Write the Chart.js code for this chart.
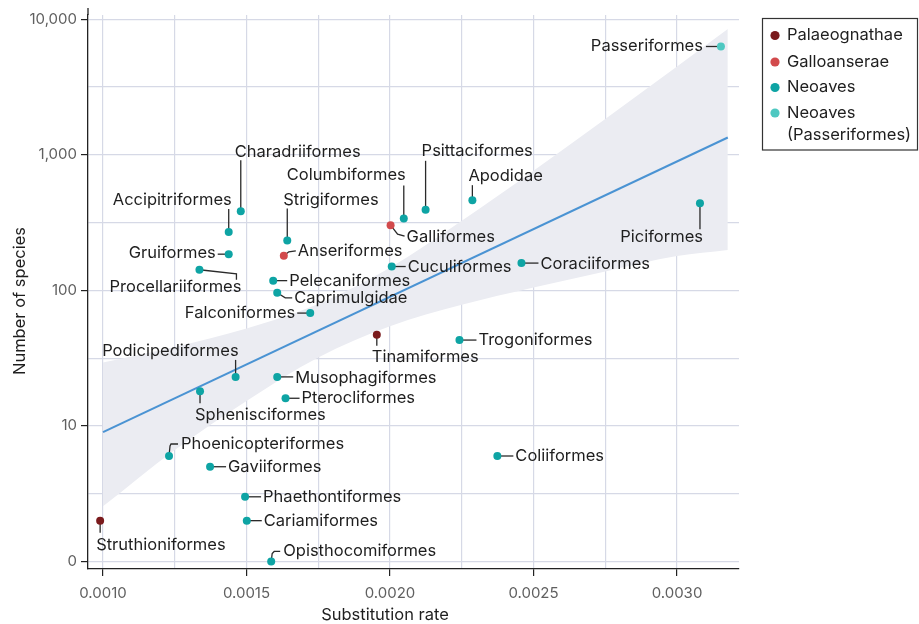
<!DOCTYPE html>
<html>
<head>
<meta charset="utf-8">
<script src="https://cdn.jsdelivr.net/npm/chart.js@4.4.0/dist/chart.umd.min.js"></script>
<style>
  html, body { margin: 0; padding: 0; background: #fff; }
  #wrap { position: relative; width: 919px; height: 624px; }
</style>
</head>
<body>
<div id="wrap"><canvas id="chart" width="919" height="624"></canvas></div>
<script>
// bird orders: substitution rate vs number of species (log scale)
const orders = ['Passeriformes', 'Piciformes', 'Apodidae', 'Psittaciformes', 'Columbiformes',
  'Galliformes', 'Cuculiformes', 'Coraciiformes', 'Charadriiformes', 'Accipitriformes',
  'Gruiformes', 'Strigiformes', 'Anseriformes', 'Procellariiformes', 'Pelecaniformes',
  'Caprimulgidae', 'Falconiformes', 'Tinamiformes', 'Trogoniformes', 'Podicipediformes',
  'Musophagiformes', 'Sphenisciformes', 'Pterocliformes', 'Phoenicopteriformes', 'Gaviiformes',
  'Coliiformes', 'Phaethontiformes', 'Cariamiformes', 'Struthioniformes', 'Opisthocomiformes'];
const rates = [0.003153, 0.003080, 0.002287, 0.002124, 0.002048,
  0.002002, 0.002006, 0.002458, 0.001480, 0.001438,
  0.001438, 0.001642, 0.001630, 0.001336, 0.001593,
  0.001607, 0.001722, 0.001954, 0.002242, 0.001462,
  0.001607, 0.001338, 0.001636, 0.001230, 0.001373,
  0.002374, 0.001495, 0.001501, 0.000990, 0.001586];
const species = [6300, 440, 463, 393, 339,
  303, 150, 159, 384, 270,
  185, 233, 180, 142, 118,
  96, 68, 47, 43, 23,
  23, 18, 16, 6, 5,
  6, 3, 2, 2, 1];
const clades = [3, 2, 2, 2, 2,
  1, 2, 2, 2, 2,
  2, 2, 1, 2, 2,
  2, 2, 0, 2, 2,
  2, 2, 2, 2, 2,
  2, 2, 2, 0, 2];

const cladeNames = ['Palaeognathae', 'Galloanserae', 'Neoaves', 'Neoaves (Passeriformes)'];
const cladeColors = ['#7a1a1c', '#d24a4c', '#0ea4a4', '#4ec8c1'];

// regression line and its confidence band
const fitRates = [0.0010, 0.003177];
const fitSpecies = [8.99, 1342];
const bandRates = [0.0010, 0.00125, 0.0015, 0.00175, 0.0020, 0.00225, 0.0025, 0.00275, 0.0030, 0.003177];
const bandUpper = [29.4, 38.3, 52.4, 79.5, 147, 326, 764, 1838, 4476, 8468];
const bandLower = [2.55, 6.65, 15.3, 32.0, 54.4, 78.2, 105, 138, 179, 199];

const xTickValues = [0.0010, 0.0015, 0.0020, 0.0025, 0.0030];
const xTickLabels = ['0.0010', '0.0015', '0.0020', '0.0025', '0.0030'];
const xMinorValues = [0.00125, 0.00175, 0.00225, 0.00275];
const yTickValues = [1, 10, 100, 1000, 10000];
const yTickLabels = ['0', '10', '100', '1,000', '10,000'];
const yMinorValues = [3.162, 31.62, 316.2, 3162];

// where each label sits relative to its dot (px), and the leader line path
const labelLayout = {
  Passeriformes: { dx: -18, dy: 0, align: 'right', leader: [[0, 0], [-15, 0]] },
  Piciformes: { dx: 3, dy: 34, align: 'right', leader: [[0, 0], [0, 26]] },
  Apodidae: { dx: -4, dy: -24, align: 'left', leader: [[0, 0], [0, -15]] },
  Psittaciformes: { dx: -4, dy: -59, align: 'left', leader: [[0, 0], [0, -49]] },
  Columbiformes: { dx: 2, dy: -43, align: 'right', leader: [[0, 0], [0, -33]] },
  Galliformes: { dx: 16, dy: 12, align: 'left', leader: [[0, 0], [7, 9], [14, 11]] },
  Cuculiformes: { dx: 16, dy: 1, align: 'left', leader: [[0, 0], [14, 0]] },
  Coraciiformes: { dx: 19, dy: 1, align: 'left', leader: [[0, 0], [17, 0]] },
  Charadriiformes: { dx: -6, dy: -59, align: 'left', leader: [[0, 0], [0, -51]] },
  Accipitriformes: { dx: 3, dy: -32, align: 'right', leader: [[0, 0], [0, -23]] },
  Gruiformes: { dx: -13, dy: -1, align: 'right', leader: [[0, 0], [-11, 0]] },
  Strigiformes: { dx: -4, dy: -41, align: 'left', leader: [[0, 0], [0, -32]] },
  Anseriformes: { dx: 14, dy: -5, align: 'left', leader: [[0, 0], [5, -4], [12, -5]] },
  Procellariiformes: { dx: 42, dy: 17, align: 'right', leader: [[0, 0], [37, 4], [37, 10]] },
  Pelecaniformes: { dx: 16, dy: 0, align: 'left', leader: [[0, 0], [14, 0]] },
  Caprimulgidae: { dx: 17, dy: 5, align: 'left', leader: [[0, 0], [8, 5], [15, 5]] },
  Falconiformes: { dx: -15, dy: 0, align: 'right', leader: [[0, 0], [-13, 0]] },
  Tinamiformes: { dx: -5, dy: 22, align: 'left', leader: [[0, 0], [0, 11]] },
  Trogoniformes: { dx: 19, dy: 0, align: 'left', leader: [[0, 0], [17, 0]] },
  Podicipediformes: { dx: 3, dy: -26, align: 'right', leader: [[0, 0], [0, -17]] },
  Musophagiformes: { dx: 18, dy: 1, align: 'left', leader: [[0, 0], [16, 0]] },
  Sphenisciformes: { dx: -5, dy: 24, align: 'left', leader: [[0, 0], [0, 12]] },
  Pterocliformes: { dx: 16, dy: 0, align: 'left', leader: [[0, 0], [14, 0]] },
  Phoenicopteriformes: { dx: 12, dy: -12, align: 'left', leader: [[0, 0], [1, -10], [2, -12], [9, -12]] },
  Gaviiformes: { dx: 18, dy: 0, align: 'left', leader: [[0, 0], [16, 0]] },
  Coliiformes: { dx: 18, dy: 0, align: 'left', leader: [[0, 0], [16, 0]] },
  Phaethontiformes: { dx: 18, dy: 0, align: 'left', leader: [[0, 0], [16, 0]] },
  Cariamiformes: { dx: 17, dy: 0, align: 'left', leader: [[0, 0], [15, 0]] },
  Struthioniformes: { dx: -4, dy: 24, align: 'left', leader: [[0, 0], [0, 12]] },
  Opisthocomiformes: { dx: 12, dy: -10, align: 'left', leader: [[0, 0], [1, -8], [3, -10], [9, -10]] }
};

const FONT = 'Inter, "Noto Sans", sans-serif';
const INK = '#1e1e1e';
const TEXT_SIZE = 16.5;

function near(a, b) { return Math.abs(a - b) <= Math.abs(b) * 1e-3; }

function eachPoint(chart, fn) {
  chart.data.datasets.forEach(function(ds, i) {
    if (ds.clade === undefined) return;
    const meta = chart.getDatasetMeta(i);
    meta.data.forEach(function(el, j) { fn(ds.data[j].name, el.x, el.y); });
  });
}

const labelPlugin = {
  id: 'orderLabels',
  afterDatasetDraw(chart, args) {
    // leaders go above the band but below the dots
    if (chart.data.datasets[args.index].label !== 'fit') return;
    const ctx = chart.ctx;
    ctx.save();
    ctx.strokeStyle = '#2a2a2a';
    ctx.lineWidth = 1.3;
    eachPoint(chart, function(name, x, y) {
      const lay = labelLayout[name];
      ctx.beginPath();
      lay.leader.forEach(function(p, k) {
        if (k === 0) ctx.moveTo(x + p[0], y + p[1]); else ctx.lineTo(x + p[0], y + p[1]);
      });
      ctx.stroke();
    });
    ctx.restore();
  },
  afterDatasetsDraw(chart) {
    const ctx = chart.ctx;
    const area = chart.chartArea;
    ctx.save();
    ctx.font = TEXT_SIZE + 'px ' + FONT;
    ctx.fillStyle = INK;
    ctx.textBaseline = 'middle';
    eachPoint(chart, function(name, x, y) {
      const lay = labelLayout[name];
      ctx.textAlign = lay.align;
      ctx.fillText(name, x + lay.dx, y + lay.dy);
    });

    // y axis line pokes a bit above the plot
    ctx.strokeStyle = '#222';
    ctx.lineWidth = 1.3;
    ctx.beginPath();
    ctx.moveTo(area.left, area.top - 7);
    ctx.lineTo(area.left, area.top);
    ctx.stroke();

    // axis titles
    ctx.fillStyle = INK;
    ctx.textAlign = 'center';
    ctx.fillText('Substitution rate', 385, 615);
    ctx.save();
    ctx.translate(20, 301);
    ctx.rotate(-Math.PI / 2);
    ctx.fillText('Number of species', 0, 0);
    ctx.restore();

    // legend
    ctx.strokeStyle = '#333';
    ctx.lineWidth = 1.2;
    ctx.strokeRect(762.5, 18.5, 155, 131.5);
    const rows = [35.5, 62, 87.5, 113];
    ctx.textAlign = 'left';
    cladeNames.forEach(function(label, i) {
      ctx.fillStyle = cladeColors[i];
      ctx.beginPath();
      ctx.arc(775, rows[i], 4.6, 0, Math.PI * 2);
      ctx.fill();
      ctx.fillStyle = INK;
      const lines = label.replace(' (', '\n(').split('\n');
      lines.forEach(function(t, k) { ctx.fillText(t, 787, rows[i] + k * 22); });
    });
    ctx.restore();
  }
};

const pointSets = cladeNames.map(function(name, c) {
  const pts = [];
  orders.forEach(function(o, i) {
    if (clades[i] === c) pts.push({ x: rates[i], y: species[i], name: o });
  });
  return {
    label: name,
    clade: c,
    data: pts,
    backgroundColor: cladeColors[c],
    borderWidth: 0,
    pointRadius: 4,
    order: 0
  };
});

const datasets = [
  {
    type: 'line', label: 'bandUpper',
    data: bandRates.map(function(r, i) { return { x: r, y: bandUpper[i] }; }),
    borderWidth: 0, pointRadius: 0, fill: '+1', backgroundColor: '#ebecf2',
    cubicInterpolationMode: 'monotone', order: 2
  },
  {
    type: 'line', label: 'bandLower',
    data: bandRates.map(function(r, i) { return { x: r, y: bandLower[i] }; }),
    borderWidth: 0, pointRadius: 0, fill: false,
    cubicInterpolationMode: 'monotone', order: 2
  },
  {
    type: 'line', label: 'fit',
    data: fitRates.map(function(r, i) { return { x: r, y: fitSpecies[i] }; }),
    borderColor: '#4a93d3', borderWidth: 2, pointRadius: 0, fill: false, order: 1
  }
].concat(pointSets);

function isMajorX(v) { return xTickValues.some(function(t) { return near(v, t); }); }
function isMajorY(v) { return yTickValues.some(function(t) { return near(v, t); }); }

new Chart(document.getElementById('chart'), {
  type: 'scatter',
  data: { datasets: datasets },
  plugins: [labelPlugin],
  options: {
    responsive: false,
    animation: false,
    events: [],
    layout: { padding: { top: 15, right: 180, bottom: 0, left: 0 } },
    plugins: { legend: { display: false }, tooltip: { enabled: false } },
    scales: {
      x: {
        type: 'linear',
        min: 0.0009477,
        max: 0.003216,
        afterBuildTicks: function(scale) {
          scale.ticks = xTickValues.concat(xMinorValues).sort().map(function(v) { return { value: v }; });
        },
        afterFit: function(scale) {
          scale.height = 55;
          scale.paddingLeft = 0;
          scale.paddingRight = 0;
        },
        ticks: {
          autoSkip: false,
          maxRotation: 0,
          padding: 8,
          color: '#606060',
          font: { family: FONT, size: 15 },
          callback: function(v) {
            const k = xTickValues.findIndex(function(t) { return near(v, t); });
            return k >= 0 ? xTickLabels[k] : '';
          }
        },
        grid: {
          color: '#d6d9e6',
          lineWidth: 1.2,
          tickLength: 7,
          tickColor: function(ctx) { return ctx.tick && isMajorX(ctx.tick.value) ? '#222' : 'rgba(0,0,0,0)'; }
        },
        border: { color: '#222', width: 1.3 }
      },
      y: {
        type: 'logarithmic',
        min: 0.880,
        max: 10757,
        afterBuildTicks: function(scale) {
          scale.ticks = yTickValues.concat(yMinorValues).sort(function(a, b) { return a - b; })
            .map(function(v) { return { value: v }; });
        },
        afterFit: function(scale) {
          scale.width = 88;
          scale.paddingTop = 0;
          scale.paddingBottom = 0;
        },
        ticks: {
          autoSkip: false,
          padding: 4,
          color: '#606060',
          font: { family: FONT, size: 15 },
          callback: function(v) {
            const k = yTickValues.findIndex(function(t) { return near(v, t); });
            return k >= 0 ? yTickLabels[k] : '';
          }
        },
        grid: {
          color: '#d6d9e6',
          lineWidth: 1.2,
          tickLength: 7,
          tickColor: function(ctx) { return ctx.tick && isMajorY(ctx.tick.value) ? '#222' : 'rgba(0,0,0,0)'; }
        },
        border: { color: '#222', width: 1.3 }
      }
    }
  }
});
</script>
</body>
</html>
